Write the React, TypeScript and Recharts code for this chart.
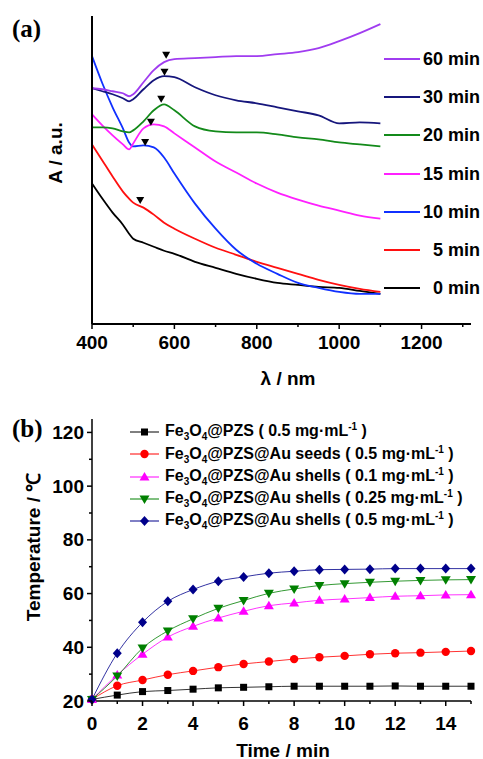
import React from 'react';
import { ComposedChart, Line, XAxis, YAxis, ReferenceDot, Label } from 'recharts';

const FONT = "Arial, 'Liberation Sans', Helvetica, sans-serif";
const SERIF = "'Times New Roman', 'Liberation Serif', serif";

// ---- (a) UV-vis spectra, absorbance in arbitrary units ----
const wavelengths = [400, 425, 450, 475, 490, 500, 525, 550, 575, 600, 650, 700, 750, 800, 850, 900, 950, 1000, 1050, 1100];
const abs0 = [1.40, 1.25, 1.11, 0.99, 0.90, 0.85, 0.81, 0.77, 0.73, 0.70, 0.62, 0.56, 0.50, 0.45, 0.41, 0.39, 0.37, 0.36, 0.33, 0.30];
const abs5 = [1.79, 1.63, 1.47, 1.32, 1.25, 1.21, 1.16, 1.09, 1.01, 0.95, 0.85, 0.76, 0.69, 0.62, 0.56, 0.50, 0.44, 0.39, 0.35, 0.32];
const abs10 = [2.67, 2.40, 2.16, 1.95, 1.81, 1.77, 1.78, 1.76, 1.66, 1.50, 1.20, 0.95, 0.74, 0.60, 0.50, 0.41, 0.36, 0.32, 0.30, 0.30];
const abs15 = [2.09, 1.98, 1.88, 1.79, 1.74, 1.80, 1.95, 1.99, 1.97, 1.90, 1.76, 1.62, 1.51, 1.40, 1.31, 1.24, 1.18, 1.13, 1.08, 1.05];
const abs20 = [1.96, 1.96, 1.95, 1.92, 1.91, 1.93, 2.02, 2.13, 2.19, 2.13, 1.97, 1.92, 1.91, 1.91, 1.89, 1.86, 1.84, 1.81, 1.79, 1.77];
const abs30 = [2.35, 2.32, 2.29, 2.25, 2.22, 2.24, 2.34, 2.43, 2.47, 2.46, 2.36, 2.28, 2.23, 2.20, 2.16, 2.12, 2.08, 2.00, 2.01, 2.00];
const abs60 = [2.35, 2.34, 2.32, 2.30, 2.27, 2.29, 2.41, 2.53, 2.61, 2.64, 2.65, 2.66, 2.67, 2.67, 2.69, 2.71, 2.75, 2.82, 2.90, 2.99];
const timeLabels = ['0 min', '5 min', '10 min', '15 min', '20 min', '30 min', '60 min'];
const spectraColors = ['#000000', '#ff1010', '#1030ff', '#ff20ff', '#138a1a', '#16167c', '#a03cf0'];
const peakWavelengths = [517, 529, 543, 568, 576, 580];
const peakAbs = [1.23, 1.81, 2.01, 2.24, 2.51, 2.68];
const wlTicks = [400, 500, 600, 700, 800, 900, 1000, 1100, 1200, 1300];

// ---- (b) photothermal heating curves ----
const times = [0, 1, 2, 3, 4, 5, 6, 7, 8, 9, 10, 11, 12, 13, 14, 15];
const tPZS = [20.6, 22.2, 23.5, 23.9, 24.4, 24.9, 25.1, 25.3, 25.5, 25.5, 25.5, 25.5, 25.6, 25.5, 25.5, 25.5];
const tSeeds = [20.6, 25.7, 27.8, 29.8, 31.2, 32.6, 33.8, 34.7, 35.6, 36.3, 36.8, 37.4, 37.8, 38.0, 38.3, 38.6];
const tShell01 = [20.6, 29.7, 37.4, 43.8, 47.8, 50.9, 53.4, 55.5, 56.5, 57.5, 58.0, 58.5, 59.0, 59.2, 59.5, 59.6];
const tShell025 = [20.6, 29.3, 39.7, 46.1, 50.6, 54.5, 57.4, 60.1, 61.7, 63.0, 63.7, 64.2, 64.6, 64.9, 65.1, 65.2];
const tShell05 = [20.6, 37.8, 49.3, 57.1, 61.5, 64.6, 66.2, 67.6, 68.3, 68.9, 69.0, 69.1, 69.3, 69.3, 69.3, 69.3];
const sampleSuffix = ['@PZS', '@PZS@Au seeds', '@PZS@Au shells', '@PZS@Au shells', '@PZS@Au shells'];
const sampleConc = ['0.5', '0.5', '0.1', '0.25', '0.5'];
const heatColors = ['#000000', '#ff0000', '#ff00ff', '#008000', '#00008b'];
const markerKinds = ['square', 'circle', 'triangle', 'triangleDown', 'diamond'];
const timeTicks = [0, 1, 2, 3, 4, 5, 6, 7, 8, 9, 10, 11, 12, 13, 14, 15];
const tempTicks = [20, 30, 40, 50, 60, 70, 80, 90, 100, 110, 120];

const spectraSeries = [abs0, abs5, abs10, abs15, abs20, abs30, abs60];
const spectraData = wavelengths.map((w, i) => {
  const row: any = { w };
  spectraSeries.forEach((s, k) => { row['s' + k] = s[i]; });
  return row;
});

const heatSeries = [tPZS, tSeeds, tShell01, tShell025, tShell05];
const heatData = times.map((t, i) => {
  const row: any = { t };
  heatSeries.forEach((s, k) => { row['h' + k] = s[i]; });
  return row;
});

const tickText = { fontFamily: FONT, fontWeight: 700, fontSize: 19, fill: '#000' } as const;

const BottomTick = (props: any) => {
  const { x, y, payload, isMajor, offset } = props;
  const major = isMajor(payload.value);
  return (
    <g>
      <line x1={x} y1={y} x2={x} y2={y + (major ? 5 : 3)} stroke="#000" strokeWidth={1.5} />
      {major && (
        <text x={x} y={y + offset} textAnchor="middle" dominantBaseline="central" {...tickText}>
          {payload.value}
        </text>
      )}
    </g>
  );
};

const LeftTick = (props: any) => {
  const { x, y, payload } = props;
  const major = payload.value % 20 === 0;
  return (
    <g>
      <line x1={x} y1={y} x2={x - (major ? 5 : 3)} y2={y} stroke="#000" strokeWidth={1.5} />
      {major && (
        <text x={x - 8} y={y} textAnchor="end" dominantBaseline="central" {...tickText}>
          {payload.value}
        </text>
      )}
    </g>
  );
};

const Marker = ({ kind, cx, cy, color }: any) => {
  if (cx == null || cy == null) return null;
  if (kind === 'square') return <rect x={cx - 3.5} y={cy - 3.5} width={7} height={7} fill={color} />;
  if (kind === 'circle') return <circle cx={cx} cy={cy} r={4.2} fill={color} />;
  if (kind === 'triangle') return <path d={`M${cx},${cy - 5} L${cx + 5},${cy + 3.5} L${cx - 5},${cy + 3.5} Z`} fill={color} />;
  if (kind === 'triangleDown') return <path d={`M${cx},${cy + 5} L${cx + 5},${cy - 3.5} L${cx - 5},${cy - 3.5} Z`} fill={color} />;
  return <path d={`M${cx},${cy - 5} L${cx + 4.5},${cy} L${cx},${cy + 5} L${cx - 4.5},${cy} Z`} fill={color} />;
};

const PeakMark = (props: any) => {
  const { cx, cy } = props;
  return <path d={`M${cx - 4},${cy - 3.5} L${cx + 4},${cy - 3.5} L${cx},${cy + 3.5} Z`} fill="#000" />;
};

const sampleLabel = (k: number) => (
  <span>
    Fe<sub style={{ fontSize: 10 }}>3</sub>O<sub style={{ fontSize: 10 }}>4</sub>
    {sampleSuffix[k]} ( {sampleConc[k]} mg·mL<sup style={{ fontSize: 10 }}>-1</sup> )
  </span>
);

export default function App() {
  return (
    <div style={{ position: 'absolute', left: 0, top: 0, width: 483, height: 759, background: '#fff', fontFamily: FONT }}>
      <div style={{ position: 'absolute', left: 12, top: 14, fontFamily: SERIF, fontWeight: 700, fontSize: 25, lineHeight: '30px' }}>(a)</div>
      <div style={{ position: 'absolute', left: 0, top: 0 }}>
        <ComposedChart width={483} height={395} data={spectraData} margin={{ top: 16, right: 12, bottom: 51, left: 72 }}>
          <XAxis
            dataKey="w"
            type="number"
            domain={[400, 1320]}
            ticks={wlTicks}
            interval={0}
            height={20}
            tickSize={0}
            tickMargin={0}
            tickLine={false}
            axisLine={{ stroke: '#000', strokeWidth: 2 }}
            tick={(p: any) => <BottomTick {...p} isMajor={(v: number) => v % 200 === 0} offset={18} />}
          >
            <Label
              content={() => (
                <text x={288} y={378} textAnchor="middle" dominantBaseline="central" {...tickText}>λ / nm</text>
              )}
            />
          </XAxis>
          <YAxis
            type="number"
            domain={[0, 3.07]}
            width={20}
            tick={false}
            tickLine={false}
            axisLine={{ stroke: '#000', strokeWidth: 2 }}
          >
            <Label
              content={() => (
                <text x={55} y={153} transform="rotate(-90 55 153)" textAnchor="middle" dominantBaseline="central" {...tickText}>
                  A / a.u.
                </text>
              )}
            />
          </YAxis>
          {spectraSeries.map((_, k) => (
            <Line
              key={k}
              dataKey={'s' + k}
              type="monotone"
              stroke={spectraColors[k]}
              strokeWidth={1.8}
              dot={false}
              isAnimationActive={false}
            />
          ))}
          {peakWavelengths.map((w, i) => (
            <ReferenceDot key={i} x={w} y={peakAbs[i]} shape={(p: any) => <PeakMark {...p} />} />
          ))}
        </ComposedChart>
      </div>
      <div style={{ position: 'absolute', left: 384, top: 40, width: 96 }}>
        {timeLabels.map((_, j) => {
          const k = timeLabels.length - 1 - j;
          return (
            <div key={k} style={{ position: 'relative', height: 38.2 }}>
              <div style={{ position: 'absolute', left: 0, top: 18, width: 36, height: 2, background: spectraColors[k] }} />
              <div style={{ position: 'absolute', left: 36, right: 0, top: 0, height: 38, lineHeight: '38px', textAlign: 'right', fontWeight: 700, fontSize: 18 }}>
                {timeLabels[k]}
              </div>
            </div>
          );
        })}
      </div>

      <div style={{ position: 'absolute', left: 12, top: 414, fontFamily: SERIF, fontWeight: 700, fontSize: 25, lineHeight: '30px' }}>(b)</div>
      <div style={{ position: 'absolute', left: 0, top: 395 }}>
        <ComposedChart width={483} height={364} data={heatData} margin={{ top: 24, right: 12, bottom: 38, left: 72 }}>
          <XAxis
            dataKey="t"
            type="number"
            domain={[0, 15]}
            ticks={timeTicks}
            interval={0}
            height={20}
            tickSize={0}
            tickMargin={0}
            tickLine={false}
            axisLine={{ stroke: '#000', strokeWidth: 1.5 }}
            tick={(p: any) => <BottomTick {...p} isMajor={(v: number) => v % 2 === 0} offset={22} />}
          >
            <Label
              content={() => (
                <text x={283} y={355} textAnchor="middle" dominantBaseline="central" {...tickText}>Time / min</text>
              )}
            />
          </XAxis>
          <YAxis
            type="number"
            domain={[20, 125]}
            ticks={tempTicks}
            interval={0}
            width={20}
            tickSize={0}
            tickMargin={0}
            tickLine={false}
            axisLine={{ stroke: '#000', strokeWidth: 1.5 }}
            tick={(p: any) => <LeftTick {...p} />}
          >
            <Label
              content={() => (
                <text x={33} y={152} transform="rotate(-90 33 152)" textAnchor="middle" dominantBaseline="central" {...tickText}>
                  Temperature / ℃
                </text>
              )}
            />
          </YAxis>
          {heatSeries.map((_, k) => (
            <Line
              key={k}
              dataKey={'h' + k}
              type="monotone"
              stroke={heatColors[k]}
              strokeWidth={1}
              strokeOpacity={0.8}
              dot={(p: any) => <Marker key={p.index} kind={markerKinds[k]} cx={p.cx} cy={p.cy} color={heatColors[k]} />}
              activeDot={false}
              isAnimationActive={false}
            />
          ))}
        </ComposedChart>
      </div>
      <div style={{ position: 'absolute', left: 129, top: 421 }}>
        {sampleSuffix.map((_, k) => (
          <div key={k} style={{ display: 'flex', alignItems: 'center', height: 22.3 }}>
            <svg width={32} height={22} style={{ flex: 'none' }}>
              <line x1={1} y1={11} x2={30} y2={11} stroke={heatColors[k]} strokeWidth={1} />
              <Marker kind={markerKinds[k]} cx={15.5} cy={11} color={heatColors[k]} />
            </svg>
            <div style={{ marginLeft: 4, fontWeight: 700, fontSize: 16, lineHeight: '22px', whiteSpace: 'nowrap' }}>
              {sampleLabel(k)}
            </div>
          </div>
        ))}
      </div>
    </div>
  );
}
